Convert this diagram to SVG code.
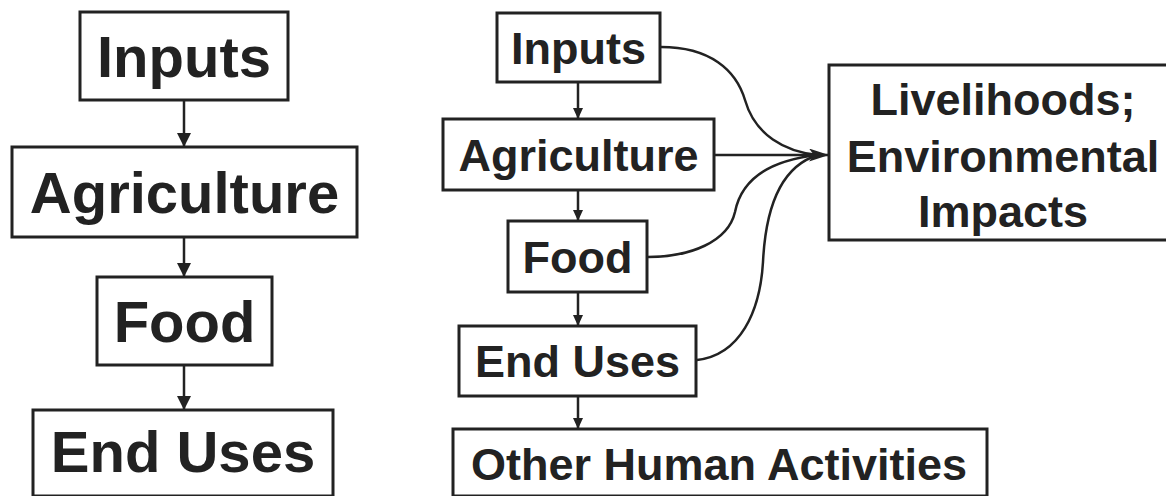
<svg xmlns="http://www.w3.org/2000/svg" width="1166" height="496" viewBox="0 0 1166 496">
  <defs>
    <style>
      .box { fill: #ffffff; stroke: #222222; stroke-width: 3; }
      .lbl { font-family: "Liberation Sans", Arial, sans-serif; font-weight: bold; fill: #222222; text-anchor: middle; }
      .big { font-size: 58px; }
      .med { font-size: 45px; }
      .ln { fill: none; stroke: #222222; stroke-width: 2.5; }
    </style>
    <marker id="ahL" markerWidth="14" markerHeight="14" refX="14" refY="7" orient="auto" markerUnits="userSpaceOnUse">
      <path d="M0,0 L14,7 L0,14 z" fill="#222222"/>
    </marker>
    <marker id="ahS" markerWidth="11" markerHeight="10" refX="11" refY="5" orient="auto" markerUnits="userSpaceOnUse">
      <path d="M0,0 L11,5 L0,10 z" fill="#222222"/>
    </marker>
    <marker id="ahM" markerWidth="20" markerHeight="13" refX="20" refY="6.5" orient="auto" markerUnits="userSpaceOnUse">
      <path d="M0,0 L20,6.5 L0,13 L5,6.5 z" fill="#222222"/>
    </marker>
  </defs>
  <rect width="1166" height="496" fill="#ffffff"/>

  <g id="connectors">
    <line class="ln" x1="184" y1="100" x2="184" y2="147" marker-end="url(#ahL)"/>
    <line class="ln" x1="184" y1="237" x2="184" y2="277" marker-end="url(#ahL)"/>
    <line class="ln" x1="184" y1="365" x2="184" y2="410" marker-end="url(#ahL)"/>

    <line class="ln" x1="578" y1="82" x2="578" y2="119" marker-end="url(#ahS)"/>
    <line class="ln" x1="578" y1="190" x2="578" y2="221" marker-end="url(#ahS)"/>
    <line class="ln" x1="578" y1="292" x2="578" y2="326" marker-end="url(#ahS)"/>
    <line class="ln" x1="578" y1="396" x2="578" y2="429" marker-end="url(#ahS)"/>

    <path class="ln" d="M661,47 C710,47 736,70 745,100 C755,135 785,152 818,155"/>
    <path class="ln" d="M648,257 C690,257 728,242 735,212 C742,177 772,160 818,155"/>
    <path class="ln" d="M697,360 C740,355 760,312 763,262 C766,200 785,165 818,155"/>
    <line class="ln" x1="714" y1="155" x2="829" y2="155" marker-end="url(#ahM)"/>
  </g>

  <g id="left-inputs">
    <rect class="box" x="80" y="12" width="208" height="88"/>
    <text class="lbl big" x="184" y="77">Inputs</text>
  </g>
  <g id="left-agriculture">
    <rect class="box" x="12" y="147" width="345" height="90"/>
    <text class="lbl big" x="184.5" y="213">Agriculture</text>
  </g>
  <g id="left-food">
    <rect class="box" x="97" y="277" width="175" height="88"/>
    <text class="lbl big" x="184.5" y="342">Food</text>
  </g>
  <g id="left-enduses">
    <rect class="box" x="33" y="410" width="300" height="86"/>
    <text class="lbl big" x="183" y="472">End Uses</text>
  </g>

  <g id="right-inputs">
    <rect class="box" x="497" y="13" width="163" height="69"/>
    <text class="lbl med" x="578.5" y="64">Inputs</text>
  </g>
  <g id="right-agriculture">
    <rect class="box" x="443" y="119" width="271" height="71"/>
    <text class="lbl med" x="578.5" y="171">Agriculture</text>
  </g>
  <g id="right-food">
    <rect class="box" x="508" y="221" width="139" height="71"/>
    <text class="lbl med" x="577.5" y="273">Food</text>
  </g>
  <g id="right-enduses">
    <rect class="box" x="459" y="326" width="237" height="70"/>
    <text class="lbl med" x="577.5" y="377">End Uses</text>
  </g>
  <g id="other-human-activities">
    <rect class="box" x="453" y="429" width="534" height="67"/>
    <text class="lbl med" x="719" y="480">Other Human Activities</text>
  </g>
  <g id="livelihoods">
    <rect class="box" x="829" y="65" width="341" height="175"/>
    <text class="lbl med" x="1003" y="115">Livelihoods;</text>
    <text class="lbl med" x="1003" y="172">Environmental</text>
    <text class="lbl med" x="1003" y="227">Impacts</text>
  </g>
</svg>
